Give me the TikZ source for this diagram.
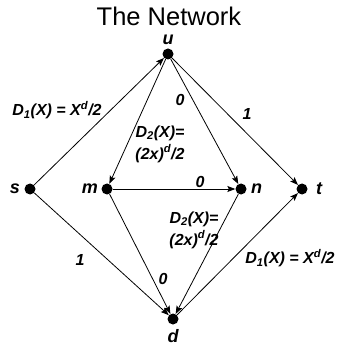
\documentclass[tikz,border=0pt]{standalone}
\usepackage{fontspec}
\setmainfont{Liberation Sans}
\usetikzlibrary{arrows.meta}
\tikzset{
  vtx/.style    = {circle, fill=black, inner sep=0pt, minimum size=11pt},
  vlab/.style   = {font=\fontsize{18}{20}\selectfont\bfseries\itshape},
  elab/.style   = {font=\fontsize{16}{18}\selectfont\bfseries\itshape, align=center, inner sep=0pt},
  edge/.style   = {-{Stealth[length=8pt,width=6pt,inset=1.5pt]}, line width=0.8pt, black},
}

\begin{document}
\begin{tikzpicture}[x=1pt, y=-1pt]
\useasboundingbox (0,0) rectangle (336,352);

% ===== title =====
\node[font=\fontsize{25.5}{28}\selectfont] (title) at (169,16) {The Network};

% ===== vertices =====
\node[vtx, label={[vlab, label distance=0pt]above:u}] (u) at (168,54) {};
\node[vtx, label={[vlab, label distance=1pt]left:s}]  (s) at (30,189) {};
\node[vtx, label={[vlab, label distance=0pt]left:m}]  (m) at (107,189) {};
\node[vtx, label={[vlab, label distance=1pt]right:n}] (n) at (241,189) {};
\node[vtx, label={[vlab, label distance=5pt]right:t}] (t) at (302,189) {};
\node[vtx, label={[vlab, label distance=1pt]below:d}] (d) at (173,319) {};

% ===== edges =====
\draw[edge] (s) -- (u);
\draw[edge] (u) -- (m);
\draw[edge] (u) -- (n);
\draw[edge] (u) -- (t);
\draw[edge] (m) -- (n);
\draw[edge] (s) -- (d);
\draw[edge] (m) -- (d);
\draw[edge] (n) -- (d);
\draw[edge] (d) -- (t);

% ===== costs =====
\node[elab] (c-su) at (57,110) {D\textsubscript{1}(X) = X\textsuperscript{d}/2};
\node[elab] (c-un) at (180,100) {0};
\node[elab] (c-ut) at (247,114) {1};
\node[elab] (c-um) at (160,144) {D\textsubscript{2}(X)=\\[4pt](2x)\textsuperscript{d}/2};
\node[elab] (c-mn) at (200,182) {0};
\node[elab] (c-nd) at (194,230) {D\textsubscript{2}(X)=\\[4pt](2x)\textsuperscript{d}/2};
\node[elab] (c-sd) at (80,260) {1};
\node[elab] (c-md) at (163,279) {0};
\node[elab] (c-dt) at (290,258) {D\textsubscript{1}(X) = X\textsuperscript{d}/2};

\end{tikzpicture}
\end{document}
